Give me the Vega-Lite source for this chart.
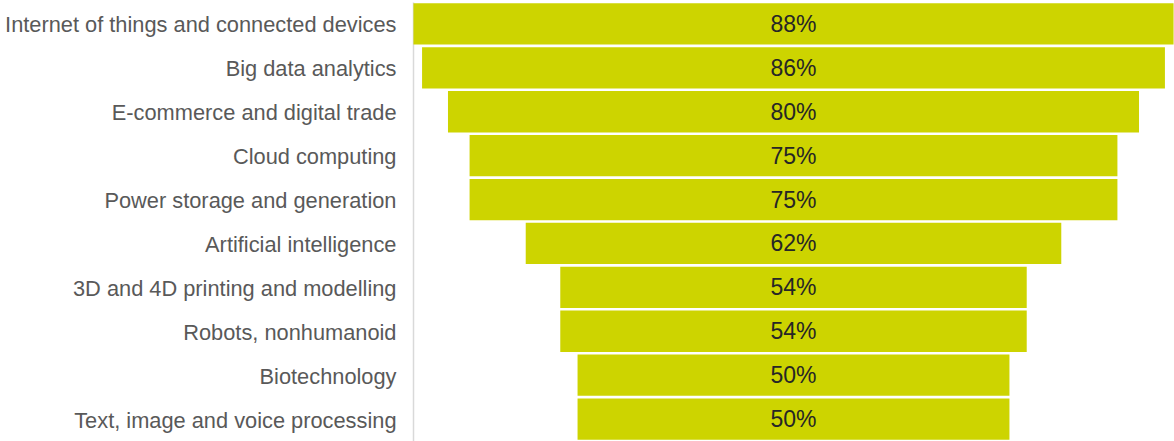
{
  "$schema": "https://vega.github.io/schema/vega-lite/v6.json",
  "autosize": {"type": "none"},
  "width": 761,
  "height": 439,
  "padding": {"left": 413, "top": 2, "right": 0, "bottom": 0},
  "background": "white",
  "config": {"view": {"stroke": null}},
  "data": {
    "values": [
      {"category": "Internet of things and connected devices", "value": 88},
      {"category": "Big data analytics", "value": 86},
      {"category": "E-commerce and digital trade", "value": 80},
      {"category": "Cloud computing", "value": 75},
      {"category": "Power storage and generation", "value": 75},
      {"category": "Artificial intelligence", "value": 62},
      {"category": "3D and 4D printing and modelling", "value": 54},
      {"category": "Robots, nonhumanoid", "value": 54},
      {"category": "Biotechnology", "value": 50},
      {"category": "Text, image and voice processing", "value": 50}
    ]
  },
  "encoding": {
    "y": {
      "field": "category",
      "type": "nominal",
      "sort": null,
      "scale": {"paddingInner": 0.06, "paddingOuter": 0.03},
      "axis": {
        "title": null,
        "ticks": false,
        "domainColor": "#d9d9d9",
        "domainWidth": 1.5,
        "labelFont": "Liberation Sans",
        "labelFontSize": 21.8,
        "labelColor": "#595959",
        "labelPadding": 17,
        "labelOffset": 1.5,
        "labelLimit": 500
      }
    }
  },
  "layer": [
    {
      "mark": {"type": "bar", "color": "#cdd400"},
      "encoding": {
        "x": {
          "field": "value",
          "type": "quantitative",
          "stack": "center",
          "scale": {"domain": [-0.05, 88.05], "zero": false, "nice": false},
          "axis": null
        }
      }
    },
    {
      "mark": {"type": "text", "font": "Liberation Sans", "fontSize": 23, "color": "#262626", "dy": 1, "text": {"expr": "datum.value + '%'"}},
      "encoding": {
        "x": {"datum": 44, "type": "quantitative"}
      }
    }
  ]
}
